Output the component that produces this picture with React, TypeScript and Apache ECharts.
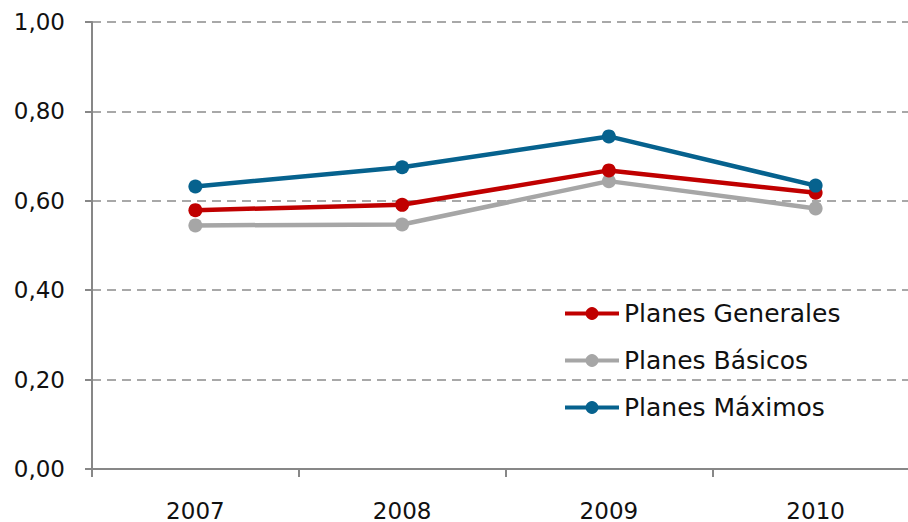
import React, { useEffect, useRef } from "react";
import * as echarts from "echarts";

const years = ["2007", "2008", "2009", "2010"];
const planesGenerales = [0.579, 0.591, 0.668, 0.618];
const planesBasicos = [0.545, 0.547, 0.644, 0.583];
const planesMaximos = [0.632, 0.675, 0.744, 0.634];

const FONT = "DejaVu Sans";

export default function App() {
  const ref = useRef<HTMLDivElement>(null);

  useEffect(() => {
    if (!ref.current) return;
    const chart = echarts.init(ref.current, undefined, { renderer: "svg" });

    const mkSeries = (name: string, data: number[], color: string, z: number) => ({
      name,
      type: "line",
      data,
      z,
      symbol: "circle",
      symbolSize: 14,
      lineStyle: { color, width: 4.5 },
      itemStyle: { color },
    });

    chart.setOption({
      animation: false,
      grid: { left: 92, top: 22, right: 0, bottom: 52 },
      legend: {
        orient: "vertical",
        left: 563,
        top: 301,
        padding: 0,
        itemWidth: 54,
        itemHeight: 16,
        itemGap: 22,
        lineStyle: { width: 4 },
        data: ["Planes Generales", "Planes Básicos", "Planes Máximos"],
        textStyle: { fontFamily: FONT, fontSize: 25, color: "#111", lineHeight: 25 },
      },
      xAxis: {
        type: "category",
        data: years,
        boundaryGap: true,
        axisLine: { lineStyle: { color: "#878787", width: 2 } },
        axisTick: { show: true, length: 8, lineStyle: { color: "#878787", width: 2 } },
        axisLabel: {
          fontFamily: FONT,
          fontSize: 23,
          lineHeight: 23,
          color: "#111",
          margin: 30,
        },
      },
      yAxis: {
        type: "value",
        min: 0,
        max: 1,
        interval: 0.2,
        axisLine: { show: true, lineStyle: { color: "#878787", width: 2 } },
        axisTick: { show: true, length: 7, lineStyle: { color: "#878787", width: 2 } },
        axisLabel: {
          fontFamily: FONT,
          fontSize: 23,
          color: "#111",
          margin: 27,
          padding: [7, 0, 0, 0],
          formatter: (v: number) => v.toFixed(2).replace(".", ","),
        },
        splitLine: {
          show: true,
          lineStyle: { color: "#8c8c8c", width: 1.5, type: [9, 6] },
        },
      },
      series: [
        mkSeries("Planes Básicos", planesBasicos, "#A6A6A6", 2),
        mkSeries("Planes Generales", planesGenerales, "#C00000", 3),
        mkSeries("Planes Máximos", planesMaximos, "#06628E", 4),
      ],
    });

    return () => chart.dispose();
  }, []);

  return (
    <div
      style={{
        position: "absolute",
        left: 0,
        top: 0,
        width: 908,
        height: 522,
        overflow: "hidden",
        background: "#fff",
      }}
    >
      <div ref={ref} style={{ width: 919, height: 522 }} />
    </div>
  );
}
